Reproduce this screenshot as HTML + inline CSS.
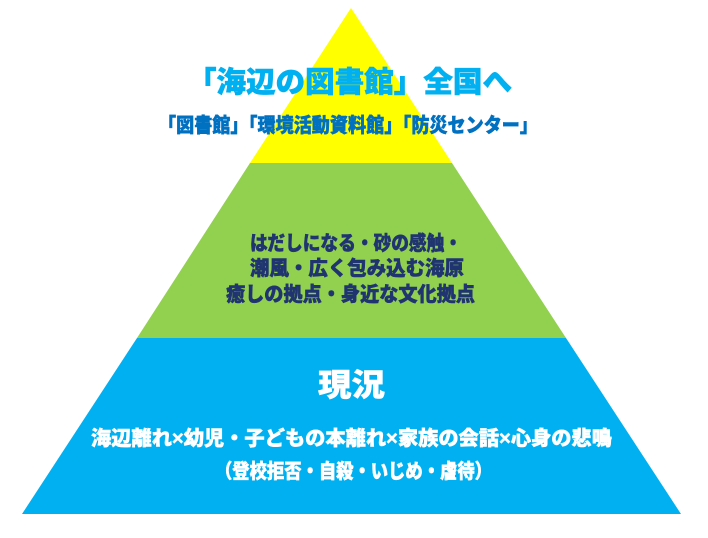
<!DOCTYPE html>
<html><head><meta charset="utf-8"><style>
html,body{margin:0;padding:0;background:#fff;width:708px;height:538px;overflow:hidden}
text{font-family:"Liberation Sans","Noto Sans CJK JP",sans-serif;font-weight:900}
</style></head><body>
<svg width="708" height="538" viewBox="0 0 708 538">
<polygon points="351,8 250,163 452,163" fill="#ffff00"/>
<polygon points="250,163 452,163 566,338 137,338" fill="#92d050"/>
<polygon points="137,338 566,338 681,514 22,514" fill="#00b0f0"/>
<text x="187" y="92" font-size="29" fill="#00b0f0" stroke="#00b0f0" stroke-width="0.6" textLength="325" lengthAdjust="spacingAndGlyphs">「海辺の図書館」全国へ</text>
<text x="158" y="132" font-size="20" fill="#0070c0" stroke="#0070c0" stroke-width="0.5" textLength="380" lengthAdjust="spacingAndGlyphs">「図書館」「環境活動資料館」「防災センター」</text>
<g fill="#1f3470" stroke="#1f3470" stroke-width="0.5" font-size="20">
<text x="250" y="250" textLength="212" lengthAdjust="spacingAndGlyphs">はだしになる・砂の感触・</text>
<text x="250" y="275" textLength="214" lengthAdjust="spacingAndGlyphs">潮風・広く包み込む海原</text>
<text x="226" y="301" textLength="249" lengthAdjust="spacingAndGlyphs">癒しの拠点・身近な文化拠点</text>
</g>
<g fill="#fff" stroke="#fff" stroke-width="0.5">
<text x="318" y="396" font-size="31" textLength="67" lengthAdjust="spacingAndGlyphs">現況</text>
<text x="91" y="445" font-size="20" textLength="521" lengthAdjust="spacingAndGlyphs">海辺離れ×幼児・子どもの本離れ×家族の会話×心身の悲鳴</text>
<text x="215" y="478" font-size="20" textLength="277" lengthAdjust="spacingAndGlyphs">（登校拒否・自殺・いじめ・虐待）</text>
</g>
</svg>
</body></html>
